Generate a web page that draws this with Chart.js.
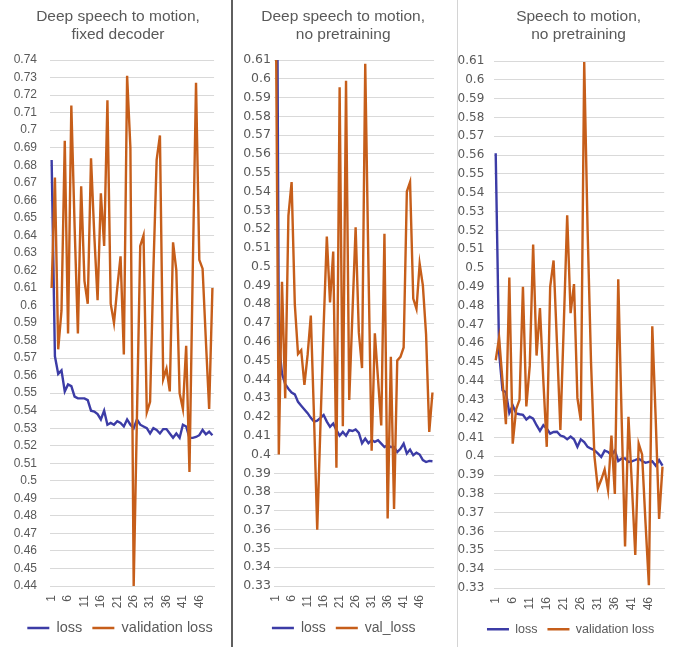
<!DOCTYPE html>
<html><head><meta charset="utf-8">
<script src="https://cdn.jsdelivr.net/npm/chart.js@4.4.0/dist/chart.umd.min.js"></script>
<style>
html,body{margin:0;padding:0;background:#fff;overflow:hidden;width:686px;height:647px;}
.panel{position:absolute;top:0;}
.sep{position:absolute;top:0;height:647px;z-index:5;}
</style></head><body>
<div class="panel" style="left:0"><canvas id="c1" width="236" height="647"></canvas></div>
<div class="panel" style="left:233px"><canvas id="c2" width="223" height="647"></canvas></div>
<div class="panel" style="left:458px"><canvas id="c3" width="228" height="647"></canvas></div>
<div class="sep" style="left:231px;width:2px;background:#5f5f5f"></div>
<div class="sep" style="left:457px;width:1px;background:#d4d4d4"></div>
<script>
// ---- data ----
const epochs = ['1','2','3','4','5','6','7','8','9','10','11','12','13','14','15','16','17','18','19','20',
  '21','22','23','24','25','26','27','28','29','30','31','32','33','34','35','36','37','38','39','40',
  '41','42','43','44','45','46','47','48','49','50'];
const xTickLabels = ['1','6','11','16','21','26','31','36','41','46'];

const title1 = ['Deep speech to motion,', 'fixed decoder'];
const title2 = ['Deep speech to motion,', 'no pretraining'];
const title3 = ['Speech to motion,', 'no pretraining'];

const loss1 = [0.683,0.571,0.561,0.563,0.551,0.555,0.554,0.548,0.547,0.547,0.547,0.546,0.540,0.5395,0.538,0.535,0.540,0.532,0.533,0.532,
  0.534,0.533,0.531,0.535,0.532,0.530,0.535,0.532,0.531,0.530,0.527,0.530,0.529,0.527,0.5295,0.5295,0.527,0.5245,0.527,0.5245,
  0.532,0.531,0.5245,0.5245,0.525,0.526,0.529,0.5265,0.528,0.526];
const val1 = [0.610,0.673,0.575,0.597,0.694,0.584,0.714,0.645,0.584,0.668,0.614,0.601,0.684,0.640,0.603,0.664,0.634,0.717,0.601,0.590,
  0.610,0.628,0.572,0.731,0.690,0.440,0.537,0.634,0.640,0.539,0.545,0.620,0.683,0.697,0.558,0.564,0.551,0.636,0.620,0.550,
  0.541,0.577,0.505,0.620,0.727,0.626,0.621,0.580,0.541,0.610];

const loss2 = [0.84,0.46,0.443,0.4375,0.435,0.433,0.432,0.428,0.426,0.424,0.422,0.4195,0.4175,0.418,0.4195,0.421,0.4175,0.4147,0.4165,0.413,
  0.410,0.412,0.410,0.413,0.4125,0.4133,0.4115,0.406,0.4085,0.406,0.4076,0.4067,0.4076,0.4058,0.404,0.405,0.404,0.404,0.4013,0.403,
  0.4058,0.4005,0.4026,0.3996,0.401,0.400,0.397,0.396,0.3966,0.3964];
const val2 = [0.66,0.400,0.492,0.430,0.527,0.545,0.480,0.4535,0.4555,0.437,0.453,0.474,0.420,0.360,0.415,0.468,0.516,0.481,0.508,0.393,
  0.5955,0.415,0.599,0.429,0.475,0.521,0.465,0.446,0.608,0.500,0.402,0.4645,0.440,0.4155,0.5175,0.366,0.452,0.371,0.450,0.452,
  0.457,0.540,0.545,0.483,0.4775,0.5015,0.490,0.464,0.412,0.433];

const loss3 = [0.561,0.455,0.435,0.434,0.423,0.427,0.4227,0.4223,0.422,0.4195,0.421,0.420,0.4165,0.4135,0.4165,0.4147,0.412,0.4129,0.413,0.411,
  0.4105,0.409,0.4105,0.409,0.405,0.409,0.4075,0.405,0.404,0.4032,0.4015,0.3996,0.403,0.4023,0.4005,0.403,0.3975,0.3988,0.3988,0.397,
  0.3973,0.398,0.3988,0.3975,0.3965,0.397,0.3973,0.395,0.398,0.395];
const val3 = [0.451,0.463,0.440,0.417,0.495,0.4067,0.425,0.430,0.490,0.4265,0.448,0.5125,0.4535,0.4787,0.440,0.405,0.490,0.504,0.460,0.414,
  0.470,0.528,0.476,0.4915,0.431,0.419,0.6095,0.520,0.450,0.400,0.383,0.3875,0.393,0.382,0.411,0.380,0.494,0.420,0.352,0.421,
  0.385,0.3475,0.4067,0.401,0.365,0.3315,0.469,0.420,0.3667,0.3945];

// ---- style ----
const BLUE = '#3c3ca6';
const ORANGE = '#c65e1a';
const TEXT = '#595959';
const GRID = '#d9d9d9';
const SANS = '"Liberation Sans", Arial, sans-serif';

const shiftBoxes = {
  id: 'shiftBoxes',
  afterLayout(chart, args, opts) {
    const t = chart.titleBlock;
    if (t && opts.titleDx) { t.left += opts.titleDx; t.right += opts.titleDx; }
    const l = chart.legend;
    if (l && opts.legendDx) { l.left += opts.legendDx; l.right += opts.legendDx; }
  }
};

function makeChart(id, p) {
  const ds = (label, data, color, order) => ({
    label, data, borderColor: color, backgroundColor: color, borderWidth: 2.4,
    pointRadius: 0, pointHoverRadius: 0, pointStyle: 'line', pointBorderWidth: 2.4,
    pointBorderColor: color, tension: 0, order
  });
  return new Chart(document.getElementById(id), {
    type: 'line',
    data: {
      labels: epochs,
      datasets: [ds('loss', p.loss, BLUE, 1), ds(p.valLabel, p.val, ORANGE, 0)]
    },
    plugins: [shiftBoxes],
    options: {
      responsive: false, animation: false, devicePixelRatio: 1,
      layout: { padding: { left: 0, right: p.padRight, top: 0, bottom: p.padBottom } },
      plugins: {
        shiftBoxes: { titleDx: p.titleDx || 0, legendDx: p.legendDx || 0 },
        tooltip: { enabled: false },
        title: {
          display: true, text: p.title, color: TEXT,
          font: { family: SANS, size: 15.5, weight: 'normal', lineHeight: '18px' },
          padding: { top: 8, bottom: p.titlePadBottom }
        },
        legend: {
          position: 'bottom',
          labels: {
            usePointStyle: true, pointStyleWidth: 22, color: TEXT, padding: 10,
            font: { family: SANS, size: p.legendSize },
            sort: (a, b) => a.datasetIndex - b.datasetIndex
          }
        }
      },
      scales: {
        x: {
          type: 'category', offset: true,
          grid: { display: false, drawTicks: false },
          border: { display: true, color: GRID },
          ticks: {
            autoSkip: false, maxRotation: 90, minRotation: 90, padding: 9, color: TEXT,
            font: { family: SANS, size: 12 },
            callback: function (val) {
              const lab = this.getLabelForValue(val);
              return xTickLabels.includes(lab) ? lab : '';
            }
          },
          afterFit: s => { s.height = p.xH; }
        },
        y: {
          min: p.yMin, max: p.yMax,
          grid: { color: GRID, drawTicks: false },
          border: { display: false },
          ticks: {
            stepSize: 0.01, padding: p.yPad, color: TEXT,
            font: { family: p.yFamily || SANS, size: p.ySize },
            callback: v => String(Number(v.toFixed(2)))
          },
          afterFit: s => { s.width = p.yW; }
        }
      }
    }
  });
}

makeChart('c1', { title: title1, loss: loss1, val: val1, valLabel: 'validation loss',
  yMin: 0.44, yMax: 0.74, yW: 50, yPad: 13, ySize: 12, padRight: 17,
  titlePadBottom: 16, xH: 24.75, legendSize: 14.5, padBottom: 1.75, titleDx: 8.5, legendDx: 10.5 });
makeChart('c2', { title: title2, loss: loss2, val: val2, valLabel: 'val_loss',
  yMin: 0.33, yMax: 0.61, yW: 41, yPad: 3, ySize: 12.5, yFamily: '"DejaVu Sans", sans-serif', padRight: 13.7,
  titlePadBottom: 16, xH: 25, legendSize: 14, padBottom: 2, titleDx: 5.5, legendDx: 6 });
makeChart('c3', { title: title3, loss: loss3, val: val3, valLabel: 'validation loss',
  yMin: 0.33, yMax: 0.61, yW: 36, yPad: 9.7, ySize: 12, yFamily: '"DejaVu Sans", sans-serif', padRight: 9.8,
  titlePadBottom: 17, xH: 25, legendSize: 12.5, padBottom: 1.5, titleDx: 11.5, legendDx: 3.5 });
</script>
</body></html>
